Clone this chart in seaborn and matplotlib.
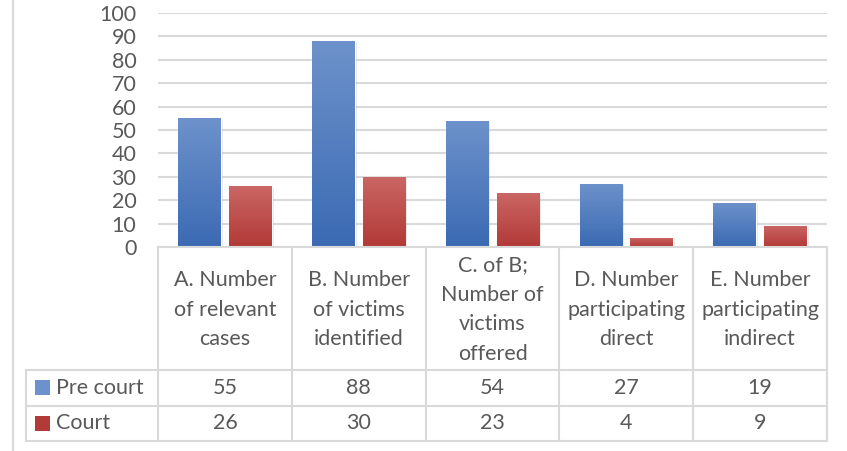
import matplotlib
matplotlib.use("Agg")
import matplotlib.pyplot as plt
import seaborn as sns
import pandas as pd
import numpy as np
from matplotlib.lines import Line2D
from matplotlib.patches import Rectangle
from matplotlib.colors import LinearSegmentedColormap

categories = ["A. Number\nof relevant\ncases",
              "B. Number\nof victims\nidentified",
              "C. of B;\nNumber of\nvictims\noffered",
              "D. Number\nparticipating\ndirect",
              "E. Number\nparticipating\nindirect"]
series = ["Pre court", "Court"]
pre_court = [55, 88, 54, 27, 19]
court = [26, 30, 23, 4, 9]
y_ticks = list(range(0, 101, 10))

blue_top, blue_bot = "#6D92CB", "#3B6AB3"
red_top, red_bot = "#CA6664", "#B23A37"
blue, red = "#4F7DC0", "#C04A47"
grid_c = "#D9D9D9"
text_c = "#595959"
FONT = "Lato"
FS = 15.5

sns.set_theme(style="white")
plt.rcParams['font.family'] = [FONT, 'DejaVu Sans']

W, H = 847, 451
fig = plt.figure(figsize=(W / 100, H / 100), dpi=100)

def fx(px):
    return px / W

def fy(py):
    return 1 - py / H

L, R, T, B = 158, 827, 13, 247
ax = fig.add_axes([fx(L), fy(B), fx(R) - fx(L), fy(T) - fy(B)])

df = pd.DataFrame({
    "cat": list(range(5)) * 2,
    "series": [series[0]] * 5 + [series[1]] * 5,
    "value": pre_court + court,
})
sns.barplot(data=df, x="cat", y="value", hue="series", hue_order=series,
            palette=[blue, red], width=0.76, gap=0.16, saturation=1,
            legend=False, ax=ax, zorder=3)

# gradient fill on bars
for i, p in enumerate(ax.patches):
    x0, y0 = p.get_x(), p.get_y()
    w, h = p.get_width(), p.get_height()
    if h <= 0:
        continue
    top, bot = (blue_top, blue_bot) if p.get_facecolor()[2] > 0.5 else (red_top, red_bot)
    cmap = LinearSegmentedColormap.from_list("g", [bot, top])
    grad = np.linspace(0, 1, 100).reshape(-1, 1)
    sh = Rectangle((x0 + 0.008, y0), w + 0.006, h - 0.6, facecolor="#000000",
                   alpha=0.10, edgecolor="none", zorder=2)
    ax.add_patch(sh)
    im = ax.imshow(grad, cmap=cmap, origin="lower", aspect="auto",
                   extent=[x0, x0 + w, y0, y0 + h], zorder=4)
    im.set_clip_path(p)

ax.set_xlim(-0.5, 4.5)
ax.set_ylim(0, 100)
ax.set_yticks(y_ticks)
ax.set_yticklabels([str(t) for t in y_ticks], fontsize=FS, color=text_c)
ax.set_xticks([])
ax.set_xlabel("")
ax.set_ylabel("")
ax.tick_params(axis="y", length=0, pad=15.5)
for s in ax.spines.values():
    s.set_visible(False)
ax.yaxis.grid(True, color=grid_c, linewidth=1.5, zorder=0)
ax.set_axisbelow(True)

# table lines
lc = grid_c
lw = 1.5
col_w = (R - L) / 5
edges = [L + i * col_w for i in range(6)]
TL = 26
row_top, row1, row2 = 370, 405.5, 441

def hline(x0, x1, y):
    fig.add_artist(Line2D([fx(x0), fx(x1)], [fy(y), fy(y)], color=lc, lw=lw,
                          transform=fig.transFigure))

def vline(x, y0, y1):
    fig.add_artist(Line2D([fx(x), fx(x)], [fy(y0), fy(y1)], color=lc, lw=lw,
                          transform=fig.transFigure))

hline(L, R, B)
hline(TL, R, row_top)
hline(TL, R, row1)
hline(TL, R, row2)
for e in edges:
    vline(e, B, row2)
vline(TL, row_top, row2)
vline(13, 0, H)

# header text
for i, c in enumerate(categories):
    cx = (edges[i] + edges[i + 1]) / 2
    fig.text(fx(cx), fy((B + row_top) / 2 + 1), c, ha="center", va="center",
             fontsize=FS, color=text_c, linespacing=1.62)

# value rows
rows = [(series[0], pre_court, blue_top, blue_bot),
        (series[1], court, red_top, red_bot)]
ys = [(row_top + row1) / 2, (row1 + row2) / 2]
for (name, vals, ct, cb), yc in zip(rows, ys):
    fig.add_artist(Rectangle((fx(35), fy(yc + 7.5)), fx(15), fy(0) - fy(15),
                             facecolor=ct if name == series[0] else cb,
                             edgecolor="none", transform=fig.transFigure))
    fig.text(fx(56), fy(yc), name, ha="left", va="center", fontsize=FS, color=text_c)
    for i, v in enumerate(vals):
        cx = (edges[i] + edges[i + 1]) / 2
        fig.text(fx(cx), fy(yc), str(v), ha="center", va="center",
                 fontsize=FS, color=text_c)

fig.savefig("out.png", dpi=100, facecolor="white")
